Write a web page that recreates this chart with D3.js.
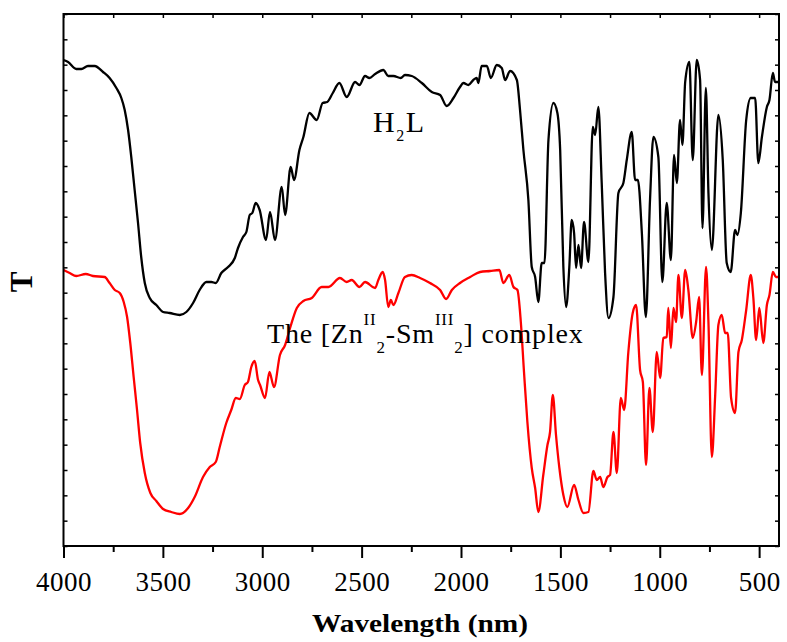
<!DOCTYPE html>
<html><head><meta charset="utf-8">
<script src="https://cdn.jsdelivr.net/npm/d3@7/dist/d3.min.js"></script>
<style>
html,body{margin:0;padding:0;background:#fff;}svg{display:block;}
svg text{font-family:"Liberation Serif","Times New Roman",Tinos,Times,serif;}
</style>
</head><body>
<svg id="c" width="787" height="642"></svg>
<script>
// Wavenumber (x) and transmittance (arbitrary units)
const blackWn = [4000,3977,3936,3910,3877,3843,3801,3768,3734,3709,3692,3675,3659,3642,3625,3609,3591,3566,3533,3499,3466,3415,3382,3348,3315,3281,3256,3234,3206,3172,3138,3122,3097,3080,3063,3050,3033,3013,2981,2961,2936,2902,2885,2857,2840,2813,2793,2763,2726,2696,2673,2645,2612,2575,2533,2511,2483,2461,2432,2391,2366,2340,2303,2282,2248,2197,2147,2105,2072,2038,2005,1988,1963,1938,1921,1913,1896,1870,1850,1820,1795,1778,1753,1719,1703,1686,1661,1644,1627,1611,1594,1580,1560,1535,1515,1501,1485,1471,1455,1443,1431,1421,1409,1396,1381,1359,1337,1325,1309,1292,1275,1258,1233,1208,1183,1166,1141,1124,1110,1090,1070,1049,1032,1007,987,965,944,928,914,898,886,872,851,834,814,797,785,768,755,738,705,683,663,643,621,609,592,565,542,520,504,486,461,448,431,420,400];
const blackT = [486,484,477,477,480,480,474,468,458,448,436,416,389,356,323,289,263,248,241,234,233,231,234,243,256,264,264,263,273,279,288,298,309,314,331,333,343,336,306,334,306,359,331,379,366,396,409,433,426,443,444,453,463,449,464,461,470,468,472,476,470,470,468,471,470,463,454,451,440,448,459,463,461,466,468,463,480,480,468,481,478,466,475,466,436,396,346,279,269,244,283,283,406,443,433,396,279,239,279,326,313,278,301,278,324,284,419,411,439,363,273,228,249,353,363,386,414,366,366,313,229,346,409,389,264,343,286,391,363,426,401,464,484,386,486,466,318,458,353,296,431,386,283,274,316,311,333,426,448,448,383,409,439,446,473,464,464];

const redWn = [4000,3969,3936,3888,3852,3793,3768,3742,3717,3697,3680,3664,3647,3630,3614,3591,3563,3533,3499,3458,3415,3373,3340,3298,3264,3234,3214,3181,3156,3133,3113,3088,3072,3055,3038,3021,3011,2986,2964,2941,2911,2885,2860,2826,2793,2751,2701,2667,2609,2575,2550,2511,2483,2432,2416,2394,2382,2366,2353,2340,2315,2282,2248,2206,2156,2105,2075,2046,2005,1954,1904,1854,1807,1787,1757,1736,1716,1699,1683,1666,1644,1627,1611,1586,1565,1552,1538,1522,1505,1485,1465,1431,1409,1384,1359,1334,1317,1300,1284,1263,1250,1233,1216,1196,1179,1158,1136,1119,1099,1085,1069,1052,1035,1015,998,982,965,957,944,931,918,906,889,872,856,834,817,802,788,767,755,738,721,705,688,671,658,641,621,604,587,565,542,529,515,499,479,461,448,431,415,400];
const redT = [276,273,270,272,270,269,263,256,253,244,229,203,169,136,103,73,53,45,37,34,32,38,49,69,79,84,99,123,136,148,147,161,164,179,185,166,161,148,174,159,191,201,218,238,245,248,259,259,268,264,266,259,264,258,266,274,266,239,246,241,253,269,271,268,263,256,247,256,263,269,274,275,276,263,271,259,256,224,174,124,78,58,34,71,101,114,151,111,78,51,39,61,46,33,34,75,66,69,59,69,71,114,73,148,136,194,233,241,176,164,81,158,114,194,168,208,209,238,198,238,224,271,228,276,256,208,224,249,171,279,224,89,151,221,231,213,213,148,133,194,206,236,271,248,206,238,203,241,251,274,269,269];

const majorTicks = [4000,3500,3000,2500,2000,1500,1000,500];
const minorTicks = [3750,3250,2750,2250,1750,1250,750];
const xLabel = "Wavelength (nm)";
const yLabel = "T";

const svg = d3.select("#c");
const L = 63.5, R = 779, T = 14, B = 546;
const x = d3.scaleLinear().domain([4000, 400]).range([L, R]);
const y = d3.scaleLinear().domain([0, 532]).range([B, T]);
const yTicks = d3.range(0, 22).map(i => i * 532 / 21);

const line = d3.line().x(d => x(d[0])).y(d => y(d[1])).curve(d3.curveMonotoneX);
const blackData = blackWn.map((w, i) => [w, blackT[i]]);
const redData = redWn.map((w, i) => [w, redT[i]]);

svg.append("path").datum(blackData).attr("d", line)
  .attr("fill", "none").attr("stroke", "#000").attr("stroke-width", 2.3).attr("stroke-linejoin", "round");
svg.append("path").datum(redData).attr("d", line)
  .attr("fill", "none").attr("stroke", "#ff0000").attr("stroke-width", 2.3).attr("stroke-linejoin", "round");

// axes
const gB = svg.append("g").attr("transform", `translate(0,${B})`)
  .call(d3.axisBottom(x).tickValues(majorTicks).tickSize(12).tickPadding(14).tickFormat(d3.format("d")));
gB.attr("font-family", null);
gB.select(".domain").remove();
gB.selectAll("line").attr("stroke-width", 2);
gB.selectAll("text").attr("font-size", 27).attr("fill", "#000").attr("letter-spacing", 0.5);
const gBm = svg.append("g").attr("transform", `translate(0,${B})`)
  .call(d3.axisBottom(x).tickValues(minorTicks).tickSize(6).tickFormat(""));
gBm.select(".domain").remove();
gBm.selectAll("line").attr("stroke-width", 2);

const gT = svg.append("g").attr("transform", `translate(0,${T})`)
  .call(d3.axisBottom(x).tickValues(majorTicks.concat(minorTicks)).tickSize(4).tickFormat(""));
gT.select(".domain").remove();
gT.selectAll("line").attr("stroke-width", 1.5);

const gL = svg.append("g").attr("transform", `translate(${L},0)`)
  .call(d3.axisRight(y).tickValues(yTicks).tickSize(4).tickFormat(""));
gL.select(".domain").remove();
gL.selectAll("line").attr("stroke-width", 1.5);
const gR = svg.append("g").attr("transform", `translate(${R},0)`)
  .call(d3.axisLeft(y).tickValues(yTicks).tickSize(4).tickFormat(""));
gR.select(".domain").remove();
gR.selectAll("line").attr("stroke-width", 1.5);

svg.append("rect").attr("x", L).attr("y", T).attr("width", R - L).attr("height", B - T)
  .attr("fill", "none").attr("stroke", "#000").attr("stroke-width", 2);

// axis titles
svg.append("text").attr("x", 420).attr("y", 632).attr("text-anchor", "middle")
  .attr("font-weight", "bold").attr("font-size", 26)
  .attr("textLength", 216).attr("lengthAdjust", "spacingAndGlyphs").text(xLabel);
svg.append("text").attr("transform", "translate(32,282) rotate(-90)").attr("text-anchor", "middle")
  .attr("font-weight", "bold").attr("font-size", 31).text(yLabel);

// curve labels
const h = svg.append("text").attr("x", 373).attr("y", 132).attr("font-size", 30).attr("letter-spacing", 1.5);
h.append("tspan").text("H");
h.append("tspan").attr("dy", 9).attr("font-size", 16).text("2");
h.append("tspan").attr("dy", -9).text("L");

const c = svg.append("text").attr("x", 267).attr("y", 343).attr("font-size", 28).attr("letter-spacing", 0.8);
c.append("tspan").text("The [Zn");
c.append("tspan").attr("dy", -18).attr("font-size", 17).text("II");
c.append("tspan").attr("dy", 28).attr("font-size", 17).text("2");
c.append("tspan").attr("dy", -10).text("-Sm");
c.append("tspan").attr("dy", -18).attr("font-size", 17).text("III");
c.append("tspan").attr("dy", 28).attr("font-size", 17).text("2");
c.append("tspan").attr("dy", -10).text("] complex");
</script>
</body></html>
